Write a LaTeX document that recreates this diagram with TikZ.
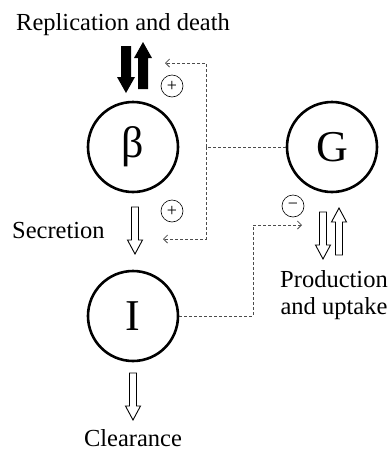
\documentclass[tikz,border=0pt]{standalone}
\usepackage{fontspec}
\setmainfont{Liberation Serif}
\usetikzlibrary{arrows.meta}
\tikzset{
  bigcirc/.style={circle,draw,line width=2.6pt,minimum size=90pt,inner sep=0pt,font=\fontsize{44}{44}\selectfont},
  signcirc/.style={circle,draw,line width=0.6pt,minimum size=22pt,inner sep=0pt,font=\fontsize{18}{18}\selectfont},
  lbl/.style={font=\fontsize{24.5}{27}\selectfont,inner sep=0pt},
  dline/.style={draw=black!70,line width=0.8pt,dash pattern=on 3pt off 2pt},
  dtip/.style={-{Straight Barb[length=4pt,width=8pt]}},
  openarrow/.pic={\draw[line width=0.9pt,fill=white] (-3.5,0) -- (3.5,0) -- (3.5,33) -- (7.5,33) -- (0,47) -- (-7.5,33) -- (-3.5,33) -- cycle;},
  blackarrow/.pic={\fill[black] (-5,0) -- (5,0) -- (5,31) -- (9,31) -- (0,47) -- (-9,31) -- (-5,31) -- cycle;}
}
\begin{document}
\begin{tikzpicture}[x=1pt,y=-1pt]
\useasboundingbox (0,0) rectangle (390,451);
% main compartments
\node[bigcirc] (beta) at (133,147) {β};
\node[bigcirc] (G) at (332,147) {G};
\node[bigcirc] (I) at (133,316) {I};
% sign circles
\node[signcirc] (p1) at (172,86) {+};
\node[signcirc] (p2) at (172,211) {+};
\node[signcirc] (m1) at (293,206) {−};
% flux arrows
\pic at (126,46) {blackarrow};
\pic[rotate=180] at (143,89) {blackarrow};
\pic at (135,207) {openarrow};
\pic at (133,373) {openarrow};
\pic at (323,212) {openarrow};
\pic[rotate=180] at (339,255) {openarrow};
% labels
\node[lbl,anchor=base west] (rep) at (16,30) {Replication and death};
\node[lbl,anchor=base west] (sec) at (12,238) {Secretion};
\node[lbl,align=center] (prod) at (334,295) {Production\\and uptake};
\node[lbl,anchor=base] (clr) at (133,446) {Clearance};
% dashed control lines
\coordinate (j) at (206,147);
\coordinate (t1) at (165,63);
\coordinate (t2) at (163,239);
\coordinate (k) at (253,225);
\coordinate (t3) at (302,225);
\draw[dline] (G) -- (j);
\draw[dline,dtip] (j) |- (t1);
\draw[dline,dtip] (j) |- (t2);
\draw[dline,dtip] (I.east) -| (k) -- (t3);
\end{tikzpicture}
\end{document}
